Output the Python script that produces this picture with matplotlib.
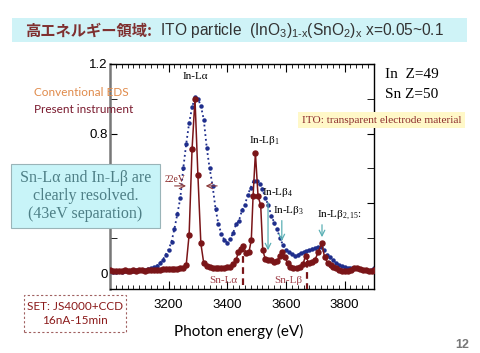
import matplotlib
matplotlib.use("Agg")
import matplotlib.pyplot as plt
from matplotlib.patches import Rectangle
from matplotlib.ticker import MultipleLocator

plt.rcParams['font.family'] = ['Liberation Sans', 'DejaVu Sans']
plt.rcParams['mathtext.fontset'] = 'custom'
plt.rcParams['mathtext.rm'] = 'Liberation Sans'

# Present instrument (high-resolution) spectrum
present_x = [3000, 3010, 3020, 3030, 3040, 3050, 3060, 3070, 3080, 3090,
             3100, 3110, 3120, 3130, 3140, 3150, 3160, 3170, 3180, 3190,
             3200, 3210, 3220, 3230, 3240, 3250, 3260, 3270, 3280, 3290,
             3300, 3310, 3320, 3330, 3340, 3350, 3360, 3370, 3380, 3390,
             3400, 3410, 3420, 3430, 3438, 3446, 3455, 3464, 3474, 3482,
             3488, 3496, 3505, 3514, 3521, 3530, 3540, 3550, 3560, 3570,
             3580, 3587, 3597, 3606, 3614, 3625, 3637, 3648, 3658, 3667,
             3677, 3688, 3699, 3710, 3722, 3732, 3742, 3752, 3762, 3772,
             3782, 3792, 3802, 3812, 3822, 3832, 3842, 3852, 3862, 3872,
             3882, 3892, 3900]
present_y = [0.015, 0.012, 0.014, 0.013, 0.012, 0.015, 0.012, 0.014, 0.016, 0.013,
             0.015, 0.017, 0.014, 0.016, 0.018, 0.020, 0.018, 0.020, 0.022, 0.021,
             0.023, 0.024, 0.026, 0.025, 0.028, 0.030, 0.045, 0.22, 0.71, 1.00,
             0.56, 0.17, 0.055, 0.040, 0.035, 0.030, 0.030, 0.028, 0.030, 0.030,
             0.032, 0.035, 0.050, 0.075, 0.12, 0.14, 0.155, 0.115, 0.12, 0.19,
             0.44, 0.69, 0.44, 0.39, 0.13, 0.080, 0.075, 0.075, 0.065, 0.070,
             0.10, 0.12, 0.090, 0.055, 0.035, 0.030, 0.030, 0.035, 0.050, 0.10,
             0.060, 0.065, 0.075, 0.12, 0.17, 0.090, 0.060, 0.045, 0.035, 0.030,
             0.020, 0.012, 0.010, 0.012, 0.020, 0.030, 0.030, 0.025, 0.020, 0.015,
             0.010, 0.012, 0.020]

# Conventional EDS spectrum
conv_x = list(range(3000, 3901, 10))
conv_y = [0.005, 0.008, 0.006, 0.010, 0.008, 0.010, 0.012, 0.010, 0.014, 0.015,
          0.016, 0.018, 0.020, 0.022, 0.027, 0.033, 0.042, 0.058, 0.075, 0.105,
          0.135, 0.18, 0.255, 0.34, 0.43, 0.60, 0.74, 0.86, 0.95, 1.01,
          1.00, 0.96, 0.88, 0.72, 0.60, 0.50, 0.37, 0.28, 0.225, 0.19,
          0.175, 0.195, 0.23, 0.28, 0.30, 0.36, 0.39, 0.45, 0.49, 0.53,
          0.53, 0.51, 0.48, 0.43, 0.39, 0.33, 0.29, 0.25, 0.20, 0.16,
          0.135, 0.12, 0.11, 0.10, 0.105, 0.115, 0.12, 0.125, 0.135, 0.14,
          0.145, 0.15, 0.15, 0.13, 0.105, 0.09, 0.075, 0.06, 0.048, 0.04,
          0.032, 0.03, 0.03, 0.03, 0.03, 0.025, 0.02, 0.015, 0.012, 0.02,
          0.03]

xticks = [3200, 3400, 3600, 3800]
yticks = [0, 0.4, 0.8, 1.2]
ytick_labels = ['0', '', '0.8', '1.2']   # 0.4 sits under the note box

red = '#7A1518'
blue = '#1F2E8C'
teal = '#5BB0B5'
serif = 'Liberation Serif'

fig = plt.figure(figsize=(4.8, 3.53), dpi=100)
fig.patch.set_facecolor('white')

# title banner
fig.add_artist(Rectangle((0.025, 0.881), 0.948, 0.068, transform=fig.transFigure,
                         facecolor='#CFF3F7', edgecolor='none', zorder=-1))
t1 = fig.text(0.052, 0.914, '高エネルギー領域:', fontsize=11, fontweight='bold',
              color='#7F3030', va='center', family=['Noto Sans CJK JP', 'DejaVu Sans'])

ax = fig.add_axes([0.229, 0.181, 0.55, 0.638])
ax.annotate('  ITO particle  (InO$_\\mathregular{3}$)$_\\mathregular{1\\text{-}x}$(SnO$_\\mathregular{2}$)$_\\mathregular{x}$ x=0.05~0.1',
            xy=(1, 0.5), xycoords=t1, va='center', ha='left', fontsize=11.2,
            color='#333333', annotation_clip=False)

ax.plot(conv_x, conv_y, ':', color=blue, lw=1.3, marker='o', ms=2.2, zorder=2)
ax.plot(present_x, present_y, '-', color=red, lw=1.1, marker='o', ms=3.6, zorder=3)

ax.set_xlim(3000, 3900)
ax.set_ylim(-0.092, 1.2)
ax.set_xticks(xticks)
ax.set_yticks(yticks)
ax.set_yticklabels(ytick_labels)
ax.xaxis.set_minor_locator(MultipleLocator(20))
ax.yaxis.set_minor_locator(MultipleLocator(0.2))
ax.tick_params(which='both', direction='in', top=True, right=True, labelsize=9.5)
ax.tick_params(axis='x', which='major', length=6, pad=7)
ax.tick_params(axis='x', which='minor', length=3)
ax.tick_params(axis='y', which='major', length=5, pad=1.5)
ax.tick_params(axis='y', which='minor', length=5)
for s in ['top', 'right', 'bottom']:
    ax.spines[s].set_linewidth(1.0)
ax.spines['left'].set_color('#777777')
ax.spines['left'].set_linewidth(1.8)

ax.text(3290, 1.13, 'In-Lα', family=serif, fontsize=8, ha='center', va='center')
ax.text(3475, 0.76, 'In-Lβ$_\\mathregular{1}$', family=serif, fontsize=8, ha='left', va='center')
ax.text(3520, 0.46, 'In-Lβ$_\\mathregular{4}$', family=serif, fontsize=8, ha='left', va='center')
ax.text(3556, 0.357, 'In-Lβ$_\\mathregular{3}$', family=serif, fontsize=8, ha='left', va='center')
ax.text(3706, 0.334, 'In-Lβ$_\\mathregular{2,15}$:', family=serif, fontsize=8, ha='left', va='center')

arrow = dict(arrowstyle='->', color=teal, lw=0.9)
ax.annotate('', xy=(3539, 0.115), xytext=(3539, 0.42), arrowprops=arrow)
ax.annotate('', xy=(3586, 0.167), xytext=(3586, 0.317), arrowprops=arrow)
ax.annotate('', xy=(3723, 0.19), xytext=(3723, 0.293), arrowprops=arrow)

# Sn lines
ax.plot([3453, 3453], [0.16, -0.092], '--', color=red, lw=1.6, dashes=(3, 2), zorder=4)
ax.plot([3672, 3672], [0.07, -0.092], '--', color=red, lw=1.6, dashes=(3, 2), zorder=4)
ax.text(3385, -0.04, 'Sn-Lα', family=serif, fontsize=8, color='#A0404A', ha='center', va='center')
ax.text(3607, -0.04, 'Sn-Lβ', family=serif, fontsize=8, color='#A0404A', ha='center', va='center')

# 22 eV width marker
ax.text(3222, 0.535, '22eV', family=serif, fontsize=7, color='#8B2A2A', ha='center', va='center')
w_arrow = dict(arrowstyle='->', color='#8B3A3A', lw=0.8)
ax.annotate('', xy=(3269, 0.50), xytext=(3211, 0.50), arrowprops=w_arrow)
ax.annotate('', xy=(3317, 0.50), xytext=(3375, 0.50), arrowprops=w_arrow)

# left side texts
fig.text(0.071, 0.737, 'Conventional EDS', fontsize=8.5, color='#E08A4A', va='center',
         family='Lato')
fig.text(0.071, 0.691, 'Present instrument', fontsize=8.5, color='#7A1A2E', va='center',
         family='Lato')

fig.add_artist(Rectangle((0.023, 0.354), 0.31, 0.181, transform=fig.transFigure,
                         facecolor='#C8F4F8', edgecolor='#9AB4B8', lw=0.8, zorder=5))
fig.text(0.178, 0.444, 'Sn-Lα and In-Lβ are\nclearly resolved.\n(43eV separation)',
         family=serif, fontsize=11.5, color='#4E7F86', ha='center', va='center',
         linespacing=1.15, zorder=6)

fig.add_artist(Rectangle((0.05, 0.06), 0.213, 0.105, transform=fig.transFigure,
                         facecolor='white', edgecolor='#A06060', lw=0.8, ls=(0, (2, 2))))
fig.text(0.156, 0.112, 'SET: JS4000+CCD\n16nA-15min', fontsize=8.5, color='#8B1A1A',
         ha='center', va='center', linespacing=1.4, family='Lato')

# right side texts
fig.text(0.802, 0.79, 'In  Z=49', family=serif, fontsize=11, va='center')
fig.text(0.802, 0.731, 'Sn Z=50', family=serif, fontsize=11, va='center')
fig.text(0.795, 0.66, 'ITO: transparent electrode material', family=serif, fontsize=8.2,
         color='#8B2A2A', ha='center', va='center',
         bbox=dict(boxstyle='square,pad=0.3', facecolor='#FFF8C8', edgecolor='none'))

fig.text(0.498, 0.062, 'Photon energy (eV)', fontsize=11, ha='center', va='center', family='Lato')
fig.text(0.963, 0.023, '12', fontsize=9, color='#777777', fontweight='bold', ha='center', va='center')

fig.savefig('out.png', dpi=100)
